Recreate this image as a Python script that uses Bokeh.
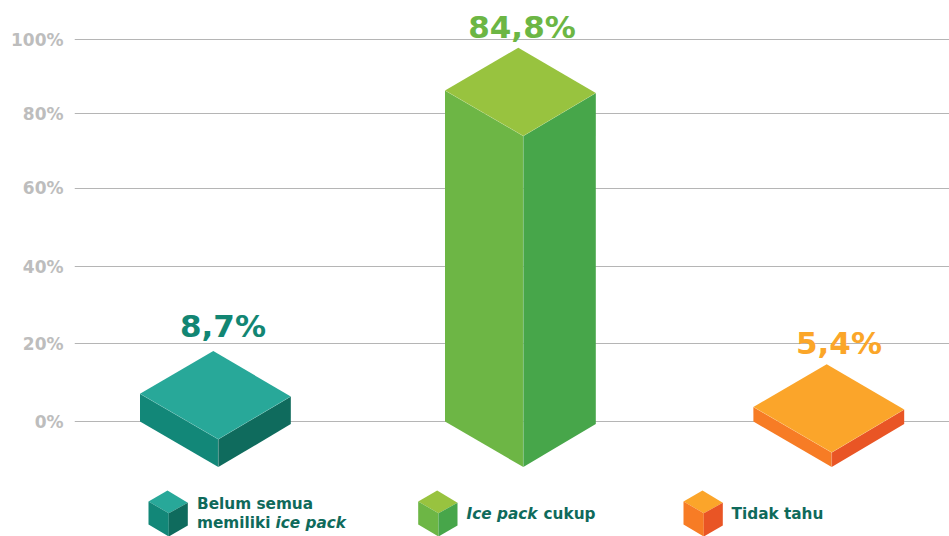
from bokeh.plotting import figure
from bokeh.models import Range1d, FixedTicker, ColumnDataSource
from bokeh.core.properties import value
from bokeh.embed import file_html
from bokeh.resources import INLINE

# Survey shares, in percent
categories = ["Belum semua memiliki ice pack", "Ice pack cukup", "Tidak tahu"]
shares = [8.7, 84.8, 5.4]
share_labels = ["8,7%", "84,8%", "5,4%"]

# Value axis
grid_positions = [0, 20.4, 40.6, 61.2, 80.6, 100]
grid_labels = ["0%", "20%", "40%", "60%", "80%", "100%"]

# Face colours: top, left, right
top_colors = ["#28a899", "#98c33f", "#fba52a"]
left_colors = ["#128778", "#6db645", "#f77c25"]
right_colors = ["#0f6b5d", "#47a64a", "#e95525"]
label_colors = ["#128673", "#6cb644", "#fba629"]
legend_text_color = "#0f6a5b"
FONT = "DejaVu Sans"

# Layout of the isometric columns, in screen pixels
W, H, LEFT = 949, 536, 74
front_x = [217.8, 522.8, 831.2]
label_x = [222.5, 521.5, 838.5]
label_gap = [68, 63, 64]
SPAN_L, SPAN_R, APEX_X = 78.3, 72.5, 5.0
DROP_FRONT, RISE_BACK, TILT_R = 45.5, 42.7, 2.6
BAR_PX = 3.986           # pixels per percentage point on the columns
BAR_BASE = 1.75          # column foot on the column scale
BAR_ZERO_PX = 428.0      # where 0 lies on the column scale
AXIS_PX = 3.82           # pixels per percentage point on the axis
AXIS_ZERO_PX = 421.3

p = figure(
    width=W, height=H, output_backend="svg", toolbar_location=None,
    x_range=Range1d(LEFT, W),
    y_range=Range1d(AXIS_ZERO_PX / AXIS_PX - H / AXIS_PX, AXIS_ZERO_PX / AXIS_PX),
    min_border_left=LEFT, min_border_right=0, min_border_top=0, min_border_bottom=0,
    background_fill_color="white", border_fill_color="white",
)
p.outline_line_color = None
p.extra_y_ranges = {
    "bars": Range1d((BAR_ZERO_PX - H) / BAR_PX, BAR_ZERO_PX / BAR_PX),
    "px": Range1d(H, 0),
}
p.xaxis.visible = False
p.xgrid.visible = False

ticker = FixedTicker(ticks=grid_positions)
p.yaxis.ticker = ticker
p.yaxis.major_label_overrides = dict(zip(grid_positions, grid_labels))
p.yaxis.axis_line_color = None
p.yaxis.major_tick_line_color = None
p.yaxis.minor_tick_line_color = None
p.yaxis.major_label_standoff = 5
p.yaxis.major_label_text_font = FONT
p.yaxis.major_label_text_font_style = "bold"
p.yaxis.major_label_text_font_size = "17px"
p.yaxis.major_label_text_color = "#bdbdbd"
p.ygrid.ticker = ticker
p.ygrid.grid_line_color = "#b5b5b5"
p.ygrid.grid_line_width = 1

u = 1 / BAR_PX  # one screen pixel on the column scale
top_xs, top_ys, left_xs, left_ys, right_xs, right_ys = [], [], [], [], [], []
seam_xs, seam_ys = [], []
for fx, share in zip(front_x, shares):
    lx, rx, ax = fx - SPAN_L, fx + SPAN_R, fx - APEX_X
    l_top, r_top = share, share - TILT_R * u
    f_top, a_top = share - DROP_FRONT * u, share + RISE_BACK * u
    l_foot, r_foot = BAR_BASE, BAR_BASE - TILT_R * u
    f_foot = BAR_BASE - DROP_FRONT * u
    top_xs.append([lx, ax, rx, fx])
    top_ys.append([l_top, a_top, r_top, f_top])
    left_xs.append([lx, fx, fx, lx])
    left_ys.append([l_top, f_top, f_foot, l_foot])
    right_xs.append([fx, rx, rx, fx])
    right_ys.append([f_top, r_top, r_foot, f_foot])
    seam_xs.append([lx, fx, rx])
    seam_ys.append([l_top, f_top, r_top])
    seam_xs.append([fx, fx])
    seam_ys.append([f_top, f_foot])

p.patches(left_xs, left_ys, y_range_name="bars", fill_color=left_colors, line_color=None)
p.patches(right_xs, right_ys, y_range_name="bars", fill_color=right_colors, line_color=None)
p.patches(top_xs, top_ys, y_range_name="bars", fill_color=top_colors, line_color=None)
p.multi_line(seam_xs, seam_ys, y_range_name="bars", line_color="white", line_alpha=0.2, line_width=0.7)

# Value labels sit above each column's left corner
labels = ColumnDataSource(dict(
    x=label_x, y=[s + g * u for s, g in zip(shares, label_gap)],
    text=share_labels, color=label_colors))
p.text("x", "y", text="text", source=labels, y_range_name="bars", text_color="color",
       text_font=value(FONT), text_font_style="bold", text_font_size="31px",
       text_align="center", text_baseline="alphabetic")

# Legend: small cubes with their captions
legend_x = [148, 417.7, 683]
CUBE_Y = 490
for x0, tc, lc, rc in zip(legend_x, top_colors, left_colors, right_colors):
    p.patch([x0 + 19, x0 + 39.3, x0 + 20.3, x0], [CUBE_Y, CUBE_Y + 12.3, CUBE_Y + 22.7, CUBE_Y + 11],
            y_range_name="px", fill_color=tc, line_color=None)
    p.patch([x0, x0 + 20.3, x0 + 20.3, x0], [CUBE_Y + 11, CUBE_Y + 22.7, CUBE_Y + 46, CUBE_Y + 34],
            y_range_name="px", fill_color=lc, line_color=None)
    p.patch([x0 + 20.3, x0 + 39.3, x0 + 39.3, x0 + 20.3], [CUBE_Y + 22.7, CUBE_Y + 12.3, CUBE_Y + 35, CUBE_Y + 46],
            y_range_name="px", fill_color=rc, line_color=None)

captions = [
    ("Belum semua", 196.5, 503, "bold"),
    ("memiliki", 196.5, 522, "bold"),
    ("ice pack", 275, 522, "bold italic"),
    ("Ice pack", 466, 513, "bold italic"),
    ("cukup", 543, 513, "bold"),
    ("Tidak tahu", 731, 513, "bold"),
]
for text, x, y, style in captions:
    p.text([x], [y], text=[text], y_range_name="px", text_color=legend_text_color,
           text_font=value(FONT), text_font_style=style, text_font_size="15.3px",
           text_align="left", text_baseline="alphabetic")

open("out.html", "w").write(file_html(p, INLINE))
